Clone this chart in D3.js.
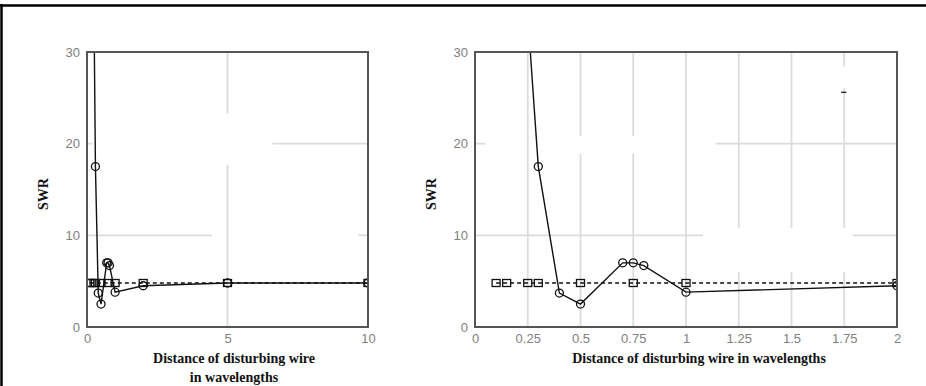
<!DOCTYPE html>
<html><head><meta charset="utf-8">
<script src="https://cdn.jsdelivr.net/npm/d3@7"></script>
<style>
body{margin:0;background:#fff;}
svg{display:block;}
</style></head>
<body>
<svg id="c" width="926" height="386"></svg>
<script>
// ---- data ----
// SWR with disturbing wire (circles, solid line)
const circleX = [0.25, 0.3, 0.4, 0.5, 0.7, 0.75, 0.8, 1, 2, 5, 10];
const circleY = [34, 17.5, 3.7, 2.5, 7.0, 7.0, 6.7, 3.8, 4.5, 4.8, 4.8];
// reference SWR (squares, dashed line)
const squareX = [0.1, 0.15, 0.25, 0.3, 0.5, 0.75, 1, 2, 5, 10];
const squareY = [4.8, 4.8, 4.8, 4.8, 4.8, 4.8, 4.8, 4.8, 4.8, 4.8];

const leftXTicks = [0, 5, 10];
const rightXTicks = [0, 0.25, 0.5, 0.75, 1, 1.25, 1.5, 1.75, 2];
const rightXTickLabels = ["0", "0.25", "0.5", "0.75", "1", "1.25", "1.5", "1.75", "2"];
const yTicks = [0, 10, 20, 30];

// visible gridline pieces (data units) – the source image has gaps in them
const leftGridV = [{x: 5, segs: [[0, 17.7], [23.3, 30]]}];
const leftGridH = [{y: 10, segs: [[0, 4.45], [9.65, 10]]}, {y: 20, segs: [[0, 0.2], [6.6, 10]]}];
const rightGridV = [
  {x: 0.25, segs: [[0, 30]]},
  {x: 0.5, segs: [[0, 18.9], [20.8, 30]]},
  {x: 0.75, segs: [[0, 18.9], [20.8, 30]]},
  {x: 1, segs: [[0, 30]]},
  {x: 1.25, segs: [[0, 6], [10.8, 30]]},
  {x: 1.5, segs: [[0, 6], [10.8, 30]]},
  {x: 1.75, segs: [[0, 6], [10.8, 26.1], [28.4, 30]]}
];
const rightGridH = [{y: 10, segs: [[0, 1.08], [1.79, 2]]}, {y: 20, segs: [[0, 0.05], [1.14, 2]]}];
const strayMark = {x: [1.735, 1.76], y: 25.6};

// ---- drawing ----
const svg = d3.select("#c");

// outer frame (top and left)
svg.append("line").attr("x1", 0).attr("x2", 926).attr("y1", 5.5).attr("y2", 5.5)
  .attr("stroke", "#000").attr("stroke-width", 2.5);
svg.append("line").attr("x1", 1.5).attr("x2", 1.5).attr("y1", 4).attr("y2", 386)
  .attr("stroke", "#000").attr("stroke-width", 2.5);

const circles = circleX.map((x, i) => ({x, y: circleY[i]}));
const squares = squareX.map((x, i) => ({x, y: squareY[i]}));

function panel(opts) {
  const {id, xr, x0, x1, xTicks, xLabels, gridV, gridH, titleLines, titleX, swrX, stray} = opts;
  const x = d3.scaleLinear().domain(xr).range([x0, x1]);
  const y = d3.scaleLinear().domain([0, 30]).range([327, 52]);
  const g = svg.append("g");

  g.append("clipPath").attr("id", id).append("rect")
    .attr("x", x0).attr("y", 52).attr("width", x1 - x0).attr("height", 327 - 52);

  // gridlines
  gridV.forEach(gv => gv.segs.forEach(s => {
    g.append("line").attr("x1", x(gv.x)).attr("x2", x(gv.x))
      .attr("y1", y(s[0])).attr("y2", y(s[1]))
      .attr("stroke", "#dcdcdc").attr("stroke-width", 1.8);
  }));
  gridH.forEach(gh => gh.segs.forEach(s => {
    g.append("line").attr("y1", y(gh.y)).attr("y2", y(gh.y))
      .attr("x1", x(s[0])).attr("x2", x(s[1]))
      .attr("stroke", "#dcdcdc").attr("stroke-width", 1.8);
  }));
  if (stray) {
    g.append("line").attr("x1", x(stray.x[0])).attr("x2", x(stray.x[1]))
      .attr("y1", y(stray.y)).attr("y2", y(stray.y))
      .attr("stroke", "#333").attr("stroke-width", 1.5);
  }

  const plot = g.append("g").attr("clip-path", `url(#${id})`);
  const line = d3.line().x(d => x(d.x)).y(d => y(d.y));

  plot.append("path").datum(squares).attr("d", line)
    .attr("fill", "none").attr("stroke", "#111").attr("stroke-width", 1.4)
    .attr("stroke-dasharray", "4,3");
  plot.append("path").datum(circles).attr("d", line)
    .attr("fill", "none").attr("stroke", "#111").attr("stroke-width", 1.4);

  plot.selectAll(".sq").data(squares).enter().append("rect")
    .attr("x", d => x(d.x) - 4).attr("y", d => y(d.y) - 3.5)
    .attr("width", 8).attr("height", 7)
    .attr("fill", "none").attr("stroke", "#111").attr("stroke-width", 1.3);
  plot.selectAll(".ci").data(circles).enter().append("circle")
    .attr("cx", d => x(d.x)).attr("cy", d => y(d.y)).attr("r", 4)
    .attr("fill", "none").attr("stroke", "#111").attr("stroke-width", 1.3);

  // frame
  g.append("rect").attr("x", x0).attr("y", 52).attr("width", x1 - x0).attr("height", 275)
    .attr("fill", "none").attr("stroke", "#555").attr("stroke-width", 2);

  // y tick labels
  const yAxis = d3.axisLeft(y).tickValues(yTicks).tickSize(0).tickPadding(7);
  const ya = g.append("g").attr("transform", `translate(${x0},0)`).call(yAxis);
  ya.select(".domain").remove();
  ya.selectAll("text").attr("font-family", "Liberation Sans, Arial, sans-serif")
    .attr("font-size", 13).attr("fill", "#808080");

  // x tick labels
  const xAxis = d3.axisBottom(x).tickValues(xTicks).tickSize(0).tickPadding(7)
    .tickFormat((d, i) => xLabels[i]);
  const xa = g.append("g").attr("transform", `translate(0,327)`).call(xAxis);
  xa.select(".domain").remove();
  xa.selectAll("text").attr("font-family", "Liberation Sans, Arial, sans-serif")
    .attr("font-size", 13).attr("fill", "#808080");

  // titles
  titleLines.forEach((t, i) => {
    g.append("text").attr("x", titleX).attr("y", 363 + i * 19)
      .attr("text-anchor", "middle").attr("font-family", "Liberation Serif, Times New Roman, serif")
      .attr("font-weight", "bold").attr("font-size", 14).attr("fill", "#111").text(t);
  });
  g.append("text").attr("transform", `translate(${swrX},194) rotate(-90)`)
    .attr("text-anchor", "middle").attr("font-family", "Liberation Serif, Times New Roman, serif")
    .attr("font-weight", "bold").attr("font-size", 14).attr("fill", "#111").text("SWR");
}

panel({
  id: "clipL", xr: [0, 10], x0: 87, x1: 368,
  xTicks: leftXTicks, xLabels: leftXTicks.map(String),
  gridV: leftGridV, gridH: leftGridH,
  titleLines: ["Distance of disturbing wire", "in wavelengths"], titleX: 234, swrX: 48
});
panel({
  id: "clipR", xr: [0, 2], x0: 475, x1: 897,
  xTicks: rightXTicks, xLabels: rightXTickLabels,
  gridV: rightGridV, gridH: rightGridH,
  titleLines: ["Distance of disturbing wire in wavelengths"], titleX: 699, swrX: 436,
  stray: strayMark
});
</script>
</body></html>
